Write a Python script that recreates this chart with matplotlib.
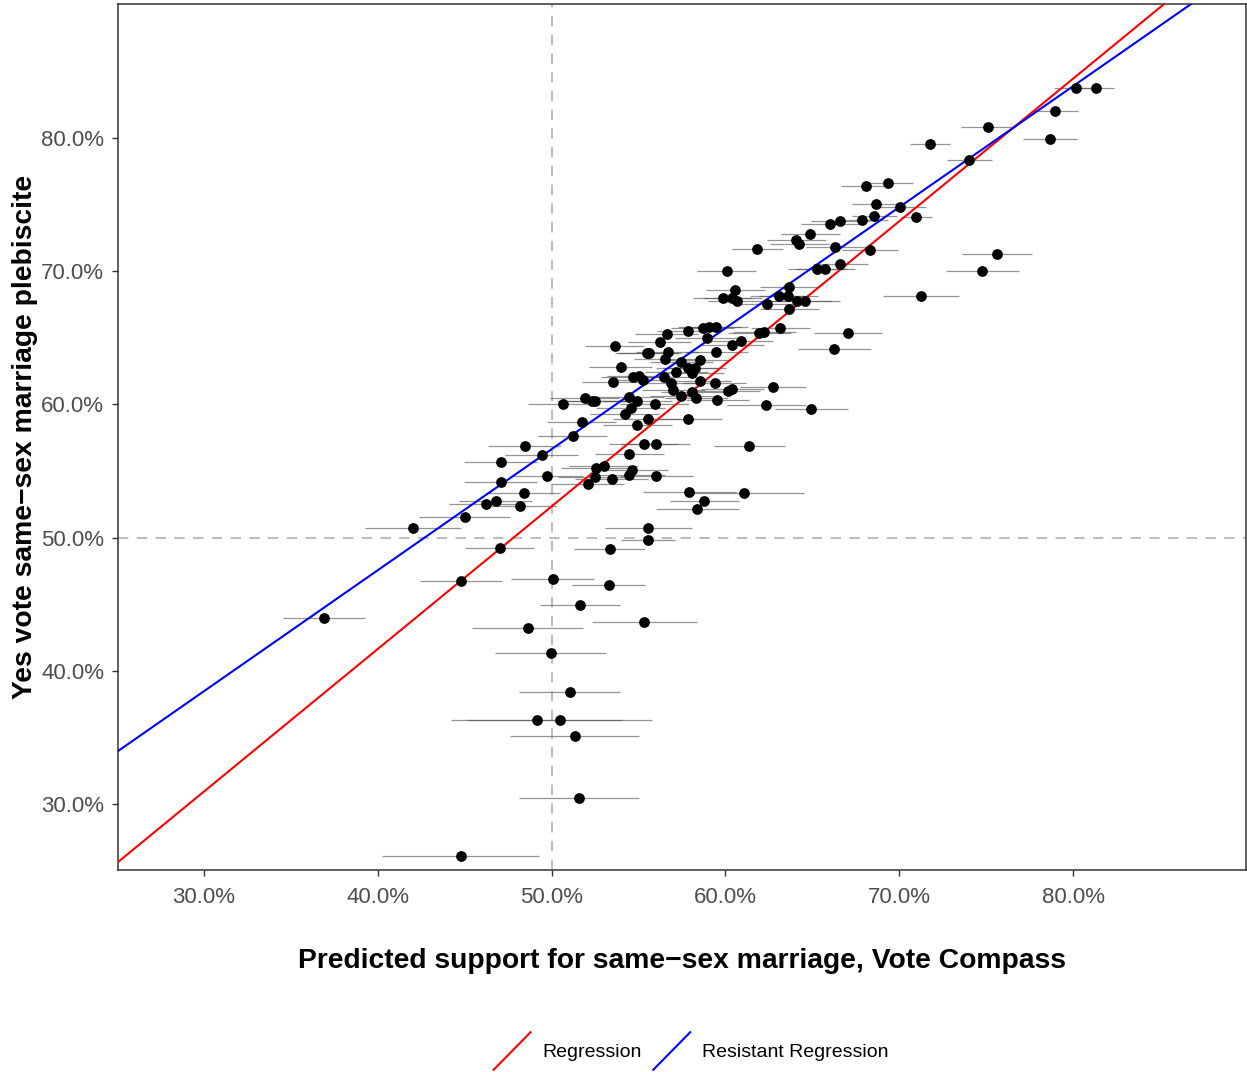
import matplotlib
matplotlib.use("Agg")
import matplotlib.pyplot as plt
from matplotlib.lines import Line2D
from matplotlib.legend_handler import HandlerBase
from matplotlib.ticker import FuncFormatter

plt.rcParams['font.family'] = ['Liberation Sans', 'DejaVu Sans']

# Predicted support (Vote Compass), %
vc_support = [
    80.17, 81.32, 78.97, 75.11, 78.68, 71.78, 74.02, 69.37, 68.10, 68.68,
    70.06, 68.56, 67.87, 70.98, 68.33, 75.63, 74.77, 71.26, 66.03, 66.61,
    64.89, 64.08, 64.25, 66.32, 61.84, 60.06, 65.29, 65.75, 66.61, 63.68,
    63.10, 63.62, 60.57, 59.83, 60.40, 60.69, 62.41, 64.14, 64.60, 63.68,
    67.07, 66.26, 63.16, 61.95, 62.24, 60.92, 60.40, 59.48, 58.51, 58.68,
    59.08, 59.48, 57.87, 56.61, 56.21, 58.91, 53.62, 55.46, 55.63, 56.67,
    56.55, 53.97, 57.47, 57.82, 58.22, 58.10, 57.18, 56.44, 54.66, 55.00,
    55.23, 53.56, 56.84, 58.51, 59.37, 57.01, 57.47, 58.10, 58.33, 59.54,
    60.17, 60.40, 62.76, 62.36, 64.94, 61.38, 61.09, 58.79, 58.39, 57.93,
    50.63, 51.90, 52.30, 52.47, 54.48, 54.94, 54.54, 54.20, 55.92, 51.72,
    51.21, 55.52, 54.94, 57.82, 55.29, 55.98, 54.48, 52.53, 52.99, 48.45,
    49.43, 47.07, 49.71, 47.07, 52.47, 52.07, 53.45, 54.60, 54.43, 56.03,
    48.39, 46.21, 46.78, 48.16, 45.00, 42.01, 47.01, 53.33, 55.57, 55.52,
    44.77, 50.06, 53.28, 51.61, 48.62, 55.34, 36.90, 49.94, 51.03, 49.14,
    50.46, 51.32, 51.55, 44.77,
]

# Yes vote in the plebiscite, %
yes_vote = [
    83.75, 83.75, 82.03, 80.83, 79.92, 79.55, 78.35, 76.62, 76.40, 75.05,
    74.82, 74.14, 73.84, 74.07, 71.59, 71.29, 70.02, 68.14, 73.54, 73.77,
    72.79, 72.34, 72.04, 71.82, 71.67, 70.02, 70.17, 70.17, 70.54, 68.81,
    68.14, 68.14, 68.59, 67.99, 67.99, 67.76, 67.54, 67.76, 67.76, 67.16,
    65.36, 64.16, 65.74, 65.36, 65.44, 64.76, 64.46, 63.93, 63.33, 65.74,
    65.81, 65.81, 65.51, 65.29, 64.68, 64.99, 64.38, 63.86, 63.86, 63.93,
    63.41, 62.81, 63.18, 62.73, 62.73, 62.36, 62.43, 62.06, 62.06, 62.13,
    61.83, 61.68, 61.61, 61.76, 61.61, 61.08, 60.63, 60.93, 60.48, 60.33,
    61.01, 61.16, 61.31, 59.95, 59.65, 56.88, 53.35, 52.75, 52.15, 53.42,
    60.03, 60.48, 60.26, 60.26, 60.56, 60.26, 59.73, 59.28, 60.03, 58.68,
    57.63, 58.90, 58.45, 58.90, 57.03, 57.03, 56.28, 55.23, 55.38, 56.88,
    56.20, 55.68, 54.62, 54.17, 54.55, 54.02, 54.40, 55.08, 54.70, 54.62,
    53.35, 52.52, 52.75, 52.37, 51.55, 50.72, 49.22, 49.14, 50.72, 49.82,
    46.74, 46.89, 46.44, 44.94, 43.21, 43.66, 43.96, 41.34, 38.41, 36.31,
    36.31, 35.11, 30.45, 26.10,
]

# Half-width of the horizontal uncertainty interval, % points
vc_error = [
    1.30, 1.00, 1.30, 1.55, 1.55, 1.15, 1.30, 1.40, 1.45, 1.40,
    1.45, 1.30, 1.45, 0.90, 1.60, 2.00, 2.10, 2.20, 1.70, 1.70,
    1.70, 1.70, 1.70, 1.70, 1.45, 1.70, 1.70, 1.70, 1.60, 1.70,
    1.70, 1.70, 1.70, 1.70, 1.70, 1.70, 1.70, 2.00, 2.00, 1.70,
    1.95, 2.10, 1.70, 1.80, 1.80, 1.80, 1.80, 1.80, 1.80, 1.80,
    1.80, 1.80, 1.80, 1.80, 1.80, 1.80, 1.70, 1.80, 1.80, 1.80,
    1.80, 1.80, 1.80, 1.80, 1.80, 1.80, 1.80, 1.80, 1.80, 1.80,
    1.80, 1.80, 1.80, 1.80, 1.80, 1.80, 1.80, 1.80, 1.80, 1.80,
    1.80, 1.80, 1.90, 2.30, 2.10, 2.05, 3.40, 2.00, 2.40, 2.70,
    2.00, 2.00, 2.00, 2.00, 2.00, 2.00, 2.00, 2.00, 2.00, 2.00,
    2.00, 2.00, 2.00, 2.00, 2.00, 2.00, 2.00, 2.00, 2.00, 2.10,
    2.10, 2.10, 2.10, 2.10, 2.10, 2.10, 2.10, 2.10, 2.10, 2.10,
    2.10, 2.10, 2.10, 2.10, 2.60, 2.75, 2.00, 2.05, 2.50, 1.55,
    2.35, 2.40, 2.10, 2.30, 3.20, 3.00, 2.35, 3.20, 2.90, 4.90,
    5.30, 3.70, 3.45, 4.50,
]

# Fitted lines (intercept, slope)
reg_intercept, reg_slope = -1.18, 1.0705
rr_intercept, rr_slope = 11.21, 0.9086

x_ticks = [30, 40, 50, 60, 70, 80]
y_ticks = [30, 40, 50, 60, 70, 80]

W, H = 1247, 1072
fig = plt.figure(figsize=(W / 100, H / 100), dpi=100)
ax = fig.add_axes([118 / W, 1 - 870 / H, (1246 - 118) / W, (870 - 4) / H])

ax.set_xlim(25.06, 89.94)
ax.set_ylim(25.05, 90.06)

ax.axvline(50, color='#BEBEBE', lw=1.5, ls=(0, (5, 4)), zorder=1)
ax.axhline(50, color='#BEBEBE', lw=1.5, ls=(0, (5, 4)), zorder=1)

ax.errorbar(vc_support, yes_vote, xerr=vc_error, fmt='none',
            ecolor='#4d4d4d', elinewidth=0.9, alpha=0.6, capsize=0, zorder=2)
ax.scatter(vc_support, yes_vote, s=60, color='black', zorder=4, linewidths=0)

ax.axline((0, reg_intercept), slope=reg_slope, color='#FF0000', lw=1.5, zorder=3)
ax.axline((0, rr_intercept), slope=rr_slope, color='#0000FF', lw=1.5, zorder=3)

pct = FuncFormatter(lambda v, p: f"{v:.1f}%")
ax.set_xticks(x_ticks)
ax.set_yticks(y_ticks)
ax.xaxis.set_major_formatter(pct)
ax.yaxis.set_major_formatter(pct)
ax.tick_params(axis='both', length=4, width=1, color='#333333',
               labelcolor='#4D4D4D', labelsize=16)
ax.tick_params(axis='x', pad=8)
ax.tick_params(axis='y', pad=6)
for s in ax.spines.values():
    s.set_color('#333333')
    s.set_linewidth(1.1)

ax.set_xlabel("Predicted support for same\u2212sex marriage, Vote Compass",
              fontsize=20.3, fontweight='bold')
ax.xaxis.set_label_coords(0.5, -(961 - 870) / 866)
ax.xaxis.label.set_va('center')
ax.set_ylabel("Yes vote same\u2212sex marriage plebiscite",
              fontsize=20.3, fontweight='bold')
ax.yaxis.set_label_coords(-(118 - 25) / 1128, (870 - 437) / 866)
ax.yaxis.label.set_va('center')


class DiagHandler(HandlerBase):
    def create_artists(self, legend, orig_handle, xdescent, ydescent,
                       width, height, fontsize, trans):
        ln = Line2D([-xdescent, -xdescent + width],
                    [-ydescent, -ydescent + height],
                    color=orig_handle.get_color(), lw=orig_handle.get_linewidth())
        ln.set_transform(trans)
        return [ln]


h_reg = Line2D([], [], color='#FF0000', lw=1.5)
h_rr = Line2D([], [], color='#0000FF', lw=1.5)
leg = fig.legend([h_reg, h_rr], ["Regression", "Resistant Regression"],
                 loc='center', bbox_to_anchor=(691 / W, 1 - 1051 / H),
                 ncol=2, frameon=False, fontsize=14,
                 handler_map={Line2D: DiagHandler()},
                 handlelength=1.9, handleheight=2.6,
                 handletextpad=0.6, columnspacing=0.6)

fig.savefig("out.png", dpi=100)
